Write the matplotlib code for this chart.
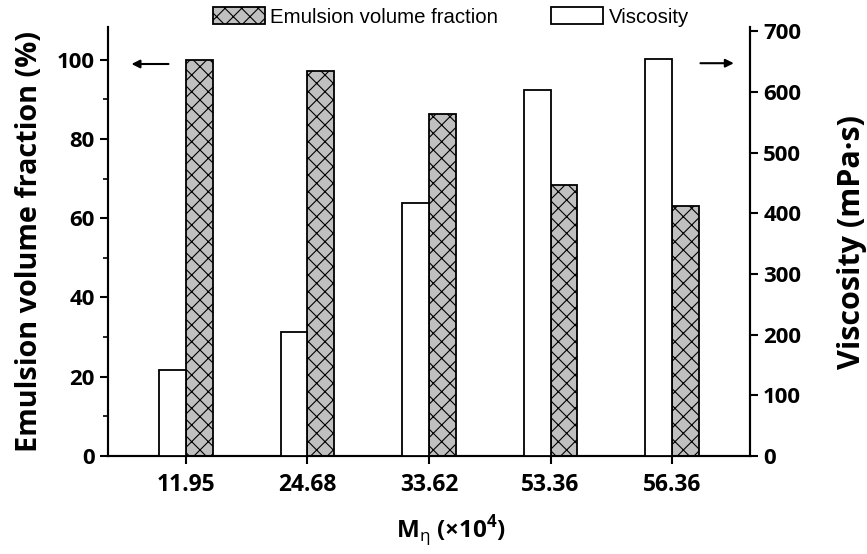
import matplotlib
matplotlib.use("Agg")
import matplotlib.pyplot as plt
from matplotlib.patches import Patch
from matplotlib.ticker import MultipleLocator
import numpy as np

plt.rcParams['font.family'] = ['Open Sans', 'DejaVu Sans']
plt.rcParams['mathtext.fontset'] = 'custom'
plt.rcParams['mathtext.bf'] = 'Open Sans:bold'
plt.rcParams['mathtext.sf'] = 'Open Sans'
plt.rcParams['mathtext.rm'] = 'Open Sans'
plt.rcParams['hatch.color'] = '#555555'
plt.rcParams['hatch.linewidth'] = 0.8

# dati
mn_labels = ["11.95", "24.68", "33.62", "53.36", "56.36"]
emulsion = [100.0, 97.1, 86.3, 68.3, 63.1]      # %
viscosity = [141, 205, 416, 603, 654]           # mPa·s

x = np.arange(len(mn_labels))
w = 0.22

fig = plt.figure(figsize=(8.67, 5.54), dpi=100)
ax = fig.add_axes([0.1246, 0.177, 0.7404, 0.774])
ax2 = ax.twinx()

ax.bar(x + w / 2, emulsion, width=w, color='#c0c0c0', edgecolor='black',
       linewidth=1.3, hatch='xx', zorder=3)
ax2.bar(x - w / 2, viscosity, width=w, color='white', edgecolor='black',
        linewidth=1.3, zorder=3)

ax.set_xlim(-0.64, 4.64)
ax.set_ylim(0, 108.2)
ax2.set_ylim(0, 706.6)

ax.set_xticks(x)
ax.set_xticklabels(mn_labels)
ax.yaxis.set_major_locator(MultipleLocator(20))
ax.yaxis.set_minor_locator(MultipleLocator(10))
ax2.yaxis.set_major_locator(MultipleLocator(100))

for a in (ax, ax2):
    a.spines['top'].set_visible(False)
    for s in a.spines.values():
        s.set_linewidth(1.5)
    a.tick_params(direction='out', width=1.5, length=6, labelsize=16)
    for lab in a.get_xticklabels() + a.get_yticklabels():
        lab.set_fontweight('bold')
ax.tick_params(which='minor', direction='out', width=1.2, length=3.5)
ax.tick_params(axis='x', length=6, pad=6, labelsize=16.5)

ax.set_ylabel("Emulsion volume fraction (%)", fontsize=20.8, fontweight='bold', labelpad=9)
ax2.set_ylabel("Viscosity (mPa·s)", fontsize=22, fontweight='bold', labelpad=26)
ax.set_xlabel(r"M$_{\mathsf{\eta}}$ (×10$^{\mathbf{4}}$)", fontsize=17.5,
              fontweight='bold')
ax.xaxis.set_label_coords(0.535, -0.133)

# frecce che indicano l'asse
ax.annotate("", xy=(-0.47, 98.9), xytext=(-0.12, 98.9),
            arrowprops=dict(arrowstyle='-|>', color='black', lw=1.5, mutation_scale=12))
ax.annotate("", xy=(4.53, 99.1), xytext=(4.21, 99.1),
            arrowprops=dict(arrowstyle='-|>', color='black', lw=1.5, mutation_scale=12))

handles = [Patch(facecolor='#c0c0c0', edgecolor='black', hatch='xx', linewidth=1.3),
           Patch(facecolor='white', edgecolor='black', linewidth=1.3)]
fig.legend(handles, ["Emulsion volume fraction", "Viscosity"], loc='upper center',
           bbox_to_anchor=(0.52, 1.02), ncol=2, frameon=False,
           prop={'family': 'Liberation Sans', 'size': 14.7},
           handlelength=2.55, handleheight=0.9, handletextpad=0.25, columnspacing=2.6)

fig.savefig("out.png", dpi=100)
